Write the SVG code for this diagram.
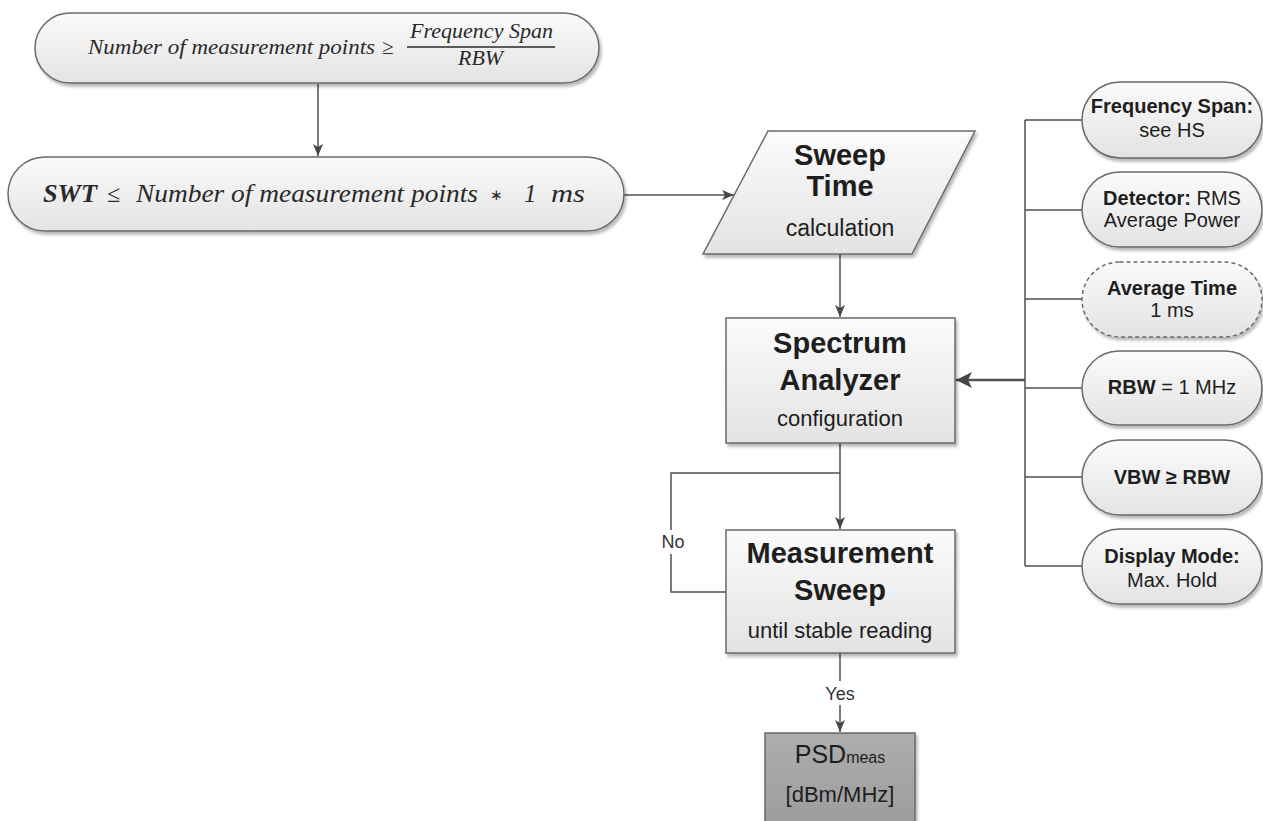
<svg xmlns="http://www.w3.org/2000/svg" width="1263" height="821" viewBox="0 0 1263 821">
<style>
.shape{stroke:#6a6a6a;stroke-width:1.5;fill:url(#g1);filter:url(#sh)}
.dark{stroke:#6a6a6a;stroke-width:1.5;fill:url(#g2);filter:url(#sh)}
.conn{fill:none;stroke:#505050;stroke-width:1.5}
.thick{fill:none;stroke:#505050;stroke-width:2.5}
.t{font-family:"Liberation Sans",Arial,sans-serif;fill:#1e1e1e;text-anchor:middle}
.b{font-weight:bold}
.m{font-family:"Liberation Serif","Times New Roman",serif;font-style:italic;fill:#2a2a2a}
.lbl{font-family:"Liberation Sans",Arial,sans-serif;fill:#333;text-anchor:middle;font-size:18px}
</style>
<defs>
<linearGradient id="g1" x1="0" y1="0" x2="0" y2="1">
<stop offset="0" stop-color="#fbfbfb"/><stop offset="1" stop-color="#e3e3e3"/>
</linearGradient>
<linearGradient id="g2" x1="0" y1="0" x2="0" y2="1">
<stop offset="0" stop-color="#adadad"/><stop offset="1" stop-color="#9c9c9c"/>
</linearGradient>
<filter id="sh" x="-10%" y="-10%" width="125%" height="130%">
<feDropShadow dx="2" dy="3" stdDeviation="1.8" flood-color="#000" flood-opacity="0.28"/>
</filter>
<marker id="arr" viewBox="0 0 12 10" refX="12" refY="5" markerWidth="12" markerHeight="10" markerUnits="userSpaceOnUse" orient="auto">
<path d="M0,0 L12,5 L0,10 L3,5 z" fill="#474747"/>
</marker>
<marker id="arrB" viewBox="0 0 16 16" refX="16" refY="8" markerWidth="16" markerHeight="16" markerUnits="userSpaceOnUse" orient="auto">
<path d="M0,0 L16,8 L0,16 L4,8 z" fill="#474747"/>
</marker>
</defs>
<rect width="1263" height="821" fill="#fff"/>

<g id="connectors">
<path class="conn" d="M318,84 V156" marker-end="url(#arr)"/>
<path class="conn" d="M624,195 H734" marker-end="url(#arr)"/>
<path class="conn" d="M840,254 V317" marker-end="url(#arr)"/>
<path class="conn" d="M840,443 V529" marker-end="url(#arr)"/>
<path class="conn" d="M726,592 H671 V473 H840"/>
<path class="conn" d="M840,653 V732" marker-end="url(#arr)"/>
<path class="conn" d="M1025,120 V566 M1025,120 H1082 M1025,210 H1082 M1025,299 H1082 M1025,388 H1082 M1025,477 H1082 M1025,566 H1082"/>
<path class="thick" d="M1025,380 H956" marker-end="url(#arrB)"/>
<rect x="660" y="530" width="27" height="24" fill="#fff"/>
<text class="lbl" x="673" y="548">No</text>
<rect x="822" y="681" width="37" height="24" fill="#fff"/>
<text class="lbl" x="840" y="700">Yes</text>
</g>

<g id="n_points">
<rect class="shape" x="35" y="13" width="564" height="70" rx="35"/>
<text class="m" x="88" y="54" font-size="21" textLength="287" lengthAdjust="spacingAndGlyphs">Number of measurement points</text>
<text class="m" x="382" y="54" font-size="21" font-style="normal">≥</text>
<text class="m" x="410" y="38" font-size="20" textLength="143" lengthAdjust="spacingAndGlyphs">Frequency Span</text>
<line x1="407" y1="47" x2="555" y2="47" stroke="#2a2a2a" stroke-width="1.3"/>
<text class="m" x="458" y="65" font-size="20" textLength="45" lengthAdjust="spacingAndGlyphs">RBW</text>
</g>

<g id="n_swt">
<rect class="shape" x="8" y="157" width="616" height="74" rx="37"/>
<text class="m" x="43" y="202" font-size="25" font-weight="bold" textLength="54" lengthAdjust="spacingAndGlyphs">SWT</text>
<text class="m" x="107" y="202" font-size="24" font-style="normal">≤</text>
<text class="m" x="136" y="202" font-size="25" textLength="342" lengthAdjust="spacingAndGlyphs">Number of measurement points</text>
<text x="490" y="200" font-size="15" font-family="DejaVu Sans, sans-serif" fill="#2a2a2a">∗</text>
<text class="m" x="524" y="202" font-size="25" font-style="normal">1</text>
<text class="m" x="551" y="202" font-size="26" textLength="34" lengthAdjust="spacingAndGlyphs">ms</text>
</g>

<g id="n_sweep">
<polygon class="shape" points="768,131 975,131 912,254 703,254"/>
<text class="t b" x="840" y="165" font-size="29">Sweep</text>
<text class="t b" x="840" y="196" font-size="29">Time</text>
<text class="t" x="840" y="236" font-size="23">calculation</text>
</g>

<g id="n_sa">
<rect class="shape" x="726" y="318" width="229" height="125"/>
<text class="t b" x="840" y="353" font-size="29">Spectrum</text>
<text class="t b" x="840" y="390" font-size="29">Analyzer</text>
<text class="t" x="840" y="426" font-size="22">configuration</text>
</g>

<g id="n_ms">
<rect class="shape" x="726" y="530" width="229" height="123"/>
<text class="t b" x="840" y="563" font-size="29">Measurement</text>
<text class="t b" x="840" y="600" font-size="29">Sweep</text>
<text class="t" x="840" y="638" font-size="22">until stable reading</text>
</g>

<g id="n_psd">
<rect class="dark" x="765" y="733" width="150" height="95"/>
<text class="t" x="840" y="763" font-size="25"><tspan>PSD</tspan><tspan font-size="16">meas</tspan></text>
<text class="t" x="840" y="802" font-size="22">[dBm/MHz]</text>
</g>

<g id="n_span">
<rect class="shape" x="1082" y="82" width="180" height="76" rx="38"/>
<text class="t b" x="1172" y="113" font-size="20">Frequency Span:</text>
<text class="t" x="1172" y="137" font-size="20">see HS</text>
</g>

<g id="n_det">
<rect class="shape" x="1082" y="172" width="180" height="75" rx="37.5"/>
<text class="t" x="1172" y="205" font-size="20"><tspan font-weight="bold">Detector:</tspan> RMS</text>
<text class="t" x="1172" y="227" font-size="20">Average Power</text>
</g>

<g id="n_avg">
<rect class="shape" x="1082" y="262" width="180" height="75" rx="37.5" stroke-dasharray="4 3" stroke="#9a9a9a"/>
<text class="t b" x="1172" y="295" font-size="20">Average Time</text>
<text class="t" x="1172" y="317" font-size="20">1 ms</text>
</g>

<g id="n_rbw">
<rect class="shape" x="1082" y="351" width="180" height="74" rx="37"/>
<text class="t" x="1172" y="394" font-size="20"><tspan font-weight="bold">RBW</tspan> = 1 MHz</text>
</g>

<g id="n_vbw">
<rect class="shape" x="1082" y="440" width="180" height="75" rx="37.5"/>
<text class="t b" x="1172" y="484" font-size="20">VBW ≥ RBW</text>
</g>

<g id="n_disp">
<rect class="shape" x="1082" y="529" width="180" height="75" rx="37.5"/>
<text class="t b" x="1172" y="563" font-size="20">Display Mode:</text>
<text class="t" x="1172" y="587" font-size="20">Max. Hold</text>
</g>
</svg>
